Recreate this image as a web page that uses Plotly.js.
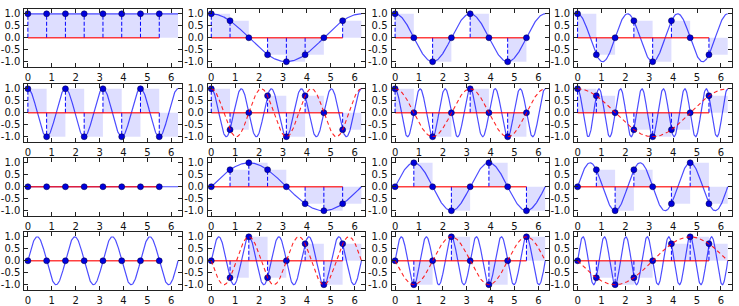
<!DOCTYPE html>
<html>
<head>
<meta charset="utf-8">
<script src="https://cdn.plot.ly/plotly-3.0.1.min.js"></script>
<style>html,body{margin:0;padding:0;background:#fff;}#chart{width:739px;height:306px;}</style>
</head>
<body>
<div id="chart"></div>
<script>
// ---- data ----
const sampleX = [0, 0.785, 1.571, 2.356, 3.142, 3.927, 4.712, 5.498];
const freqs = [0, 1, 2, 3, 4, 5, 6, 7];
const cosSamples = [
  [1, 1, 1, 1, 1, 1, 1, 1],
  [1, 0.71, 0, -0.71, -1, -0.71, 0, 0.71],
  [1, 0, -1, 0, 1, 0, -1, 0],
  [1, -0.71, 0, 0.71, -1, 0.71, 0, -0.71],
  [1, -1, 1, -1, 1, -1, 1, -1],
  [1, -0.71, 0, 0.71, -1, 0.71, 0, -0.71],
  [1, 0, -1, 0, 1, 0, -1, 0],
  [1, 0.71, 0, -0.71, -1, -0.71, 0, 0.71]
];
const sinSamples = [
  [0, 0, 0, 0, 0, 0, 0, 0],
  [0, 0.71, 1, 0.71, 0, -0.71, -1, -0.71],
  [0, 1, 0, -1, 0, 1, 0, -1],
  [0, 0.71, -1, 0.71, 0, -0.71, 1, -0.71],
  [0, 0, 0, 0, 0, 0, 0, 0],
  [0, -0.71, 1, -0.71, 0, 0.71, -1, 0.71],
  [0, -1, 0, 1, 0, -1, 0, 1],
  [0, -0.71, -1, -0.71, 0, 0.71, 1, 0.71]
];
// alias frequency shown as red dashed curve (null = none)
const aliasFreqs = [null, null, null, null, null, 3, 2, 1];
const cosAliasSign = 1;
const sinAliasSign = -1;
const xTickVals = [0, 1, 2, 3, 4, 5, 6];
const xTickText = ['0', '1', '2', '3', '4', '5', '6'];
const yTickVals = [-1, -0.5, 0, 0.5, 1];
const yTickText = ['-1.0', '-0.5', '0.0', '0.5', '1.0'];

// ---- layout geometry (px) ----
const W = 739, H = 306;
const colLeft = [24.3, 207.7, 391.5, 574];
const colW = 157.7;
const rowTop = [9, 84, 158, 232];
const rowH = 57.5;

const N = 400;
const period = 2 * Math.PI;
const xs = [];
for (let i = 0; i <= N; i++) xs.push(i * period / N);

const traces = [];
const layout = {
  width: W, height: H,
  margin: {l: 0, r: 0, t: 0, b: 0},
  paper_bgcolor: '#fff', plot_bgcolor: '#fff',
  showlegend: false,
  font: {family: 'DejaVu Sans', size: 10, color: '#111'}
};

const panels = [];
freqs.forEach((k, i) => panels.push({kind: 'cos', k: k, s: cosSamples[i], a: aliasFreqs[i], sign: cosAliasSign}));
freqs.forEach((k, i) => panels.push({kind: 'sin', k: k, s: sinSamples[i], a: aliasFreqs[i], sign: sinAliasSign}));

const binW = sampleX[1] - sampleX[0];

panels.forEach((p, idx) => {
  const row = Math.floor(idx / 4), col = idx % 4;
  const n = idx + 1;
  const xa = 'x' + (n === 1 ? '' : n), ya = 'y' + (n === 1 ? '' : n);
  const xk = 'xaxis' + (n === 1 ? '' : n), yk = 'yaxis' + (n === 1 ? '' : n);
  const fn = p.kind === 'cos' ? Math.cos : Math.sin;

  // shaded step bars
  traces.push({type: 'bar', x: sampleX, y: p.s, width: sampleX.map(() => binW), offset: 0,
    marker: {color: 'rgba(0,0,255,0.13)', line: {width: 0}}, xaxis: xa, yaxis: ya, hoverinfo: 'skip'});
  // continuous curve
  traces.push({type: 'scatter', mode: 'lines', x: xs, y: xs.map(x => fn(p.k * x)),
    line: {color: 'rgba(0,0,255,0.7)', width: 1.2}, xaxis: xa, yaxis: ya, hoverinfo: 'skip'});
  // stems
  const sx = [], sy = [];
  sampleX.forEach((x, j) => { sx.push(x, x, null); sy.push(0, p.s[j], null); });
  traces.push({type: 'scatter', mode: 'lines', x: sx, y: sy,
    line: {color: 'rgb(0,0,255)', width: 1, dash: '4px,2px'}, xaxis: xa, yaxis: ya, hoverinfo: 'skip'});
  // baseline
  traces.push({type: 'scatter', mode: 'lines', x: [sampleX[0], sampleX[sampleX.length - 1]], y: [0, 0],
    line: {color: 'rgba(255,0,0,0.75)', width: 1.4}, xaxis: xa, yaxis: ya, hoverinfo: 'skip'});
  // markers
  traces.push({type: 'scatter', mode: 'markers', x: sampleX, y: p.s,
    marker: {color: 'rgb(0,0,220)', size: 6, line: {color: 'rgb(0,0,60)', width: 0.5}}, xaxis: xa, yaxis: ya, hoverinfo: 'skip'});
  // alias curve
  if (p.a !== null) {
    traces.push({type: 'scatter', mode: 'lines', x: xs, y: xs.map(x => p.sign * fn(p.a * x)),
      line: {color: 'rgba(255,0,0,0.85)', width: 1.1, dash: '4px,3px'}, xaxis: xa, yaxis: ya, hoverinfo: 'skip'});
  }

  const x0 = colLeft[col] / W, x1 = (colLeft[col] + colW) / W;
  const y1 = 1 - rowTop[row] / H, y0 = 1 - (rowTop[row] + rowH) / H;
  const common = {showline: true, mirror: 'ticks', linecolor: '#222', linewidth: 1,
    ticks: 'inside', ticklen: 4, tickwidth: 1, tickcolor: '#222', showgrid: false, zeroline: false,
    tickfont: {family: 'DejaVu Sans', size: 10, color: '#111'}, fixedrange: true};
  layout[xk] = Object.assign({}, common, {domain: [x0, x1], anchor: ya, range: [-0.15, 6.45],
    tickmode: 'array', tickvals: xTickVals, ticktext: xTickText, ticklabelstandoff: 1});
  layout[yk] = Object.assign({}, common, {domain: [y0, y1], anchor: xa, range: [-1.2, 1.2],
    tickmode: 'array', tickvals: yTickVals, ticktext: yTickText, ticklabelstandoff: 1});
});

Plotly.newPlot('chart', traces, layout, {staticPlot: true, displayModeBar: false});
</script>
</body>
</html>
